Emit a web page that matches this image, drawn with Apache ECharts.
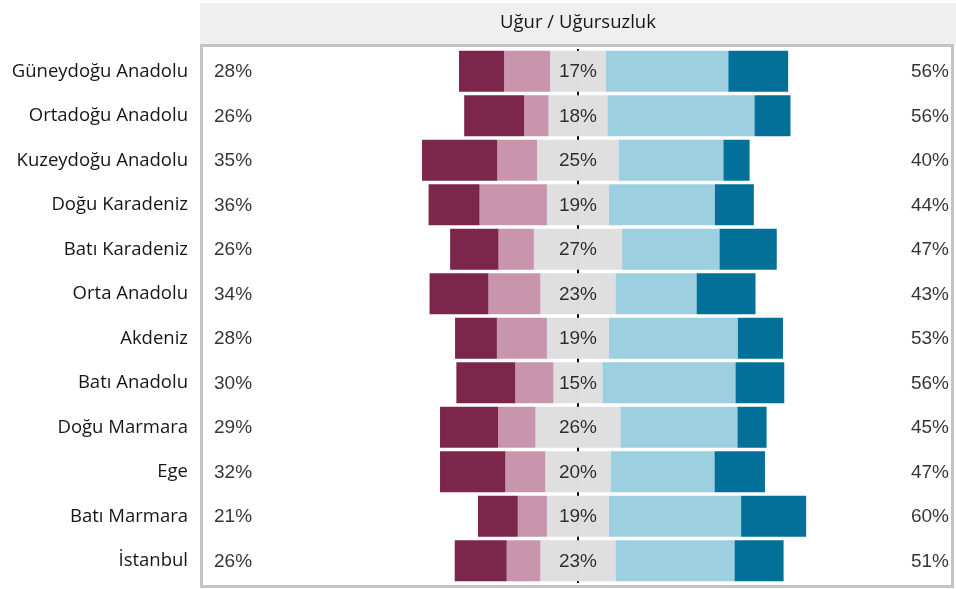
<!DOCTYPE html>
<html>
<head>
<meta charset="utf-8">
<style>
  html, body { margin: 0; padding: 0; background: #ffffff; }
  #chart { width: 956px; height: 589px; }
</style>
<script src="https://cdn.jsdelivr.net/npm/echarts@6/dist/echarts.min.js"></script>
</head>
<body>
<div id="chart"></div>
<script>
// Regions, top to bottom
const regions = [
  'Güneydoğu Anadolu', 'Ortadoğu Anadolu', 'Kuzeydoğu Anadolu', 'Doğu Karadeniz',
  'Batı Karadeniz', 'Orta Anadolu', 'Akdeniz', 'Batı Anadolu',
  'Doğu Marmara', 'Ege', 'Batı Marmara', 'İstanbul'
];

// Shares in percent for each answer level
const stronglyNegative = [13.8, 18.3, 23.0, 15.6, 14.8, 18.0, 12.8, 18.0, 17.8, 20.0, 12.2, 15.9];
const negative         = [14.1,  7.5, 12.2, 20.6, 10.8, 15.9, 15.3, 11.7, 11.4, 12.2,  8.9, 10.3];
const neutral          = [17,   18,   25,   19,   27,   23,   19,   15,   26,   20,   19,   23];
const positive         = [37.5, 45.0, 32.0, 32.4, 29.8, 24.8, 39.4, 40.7, 35.8, 31.8, 40.4, 36.4];
const stronglyPositive = [18.3, 11.0,  8.0, 11.9, 17.5, 18.0, 13.8, 14.9,  8.9, 15.4, 19.9, 15.0];

const title = 'Uğur / Uğursuzluk';

const colors = {
  strongNeg: '#7d264b',
  neg: '#c895ad',
  neutral: '#dfdfdf',
  pos: '#9ccfdf',
  strongPos: '#027099'
};

const X_MIN = -114.7;
const X_MAX = 113.8;

const leftTotals = regions.map((_, i) => Math.round(stronglyNegative[i] + negative[i]));
const rightTotals = regions.map((_, i) => Math.round(positive[i] + stronglyPositive[i]));

const numFont = '"Liberation Sans", Arial, sans-serif';
const textFont = '"Open Sans", sans-serif';
const textColor = '#161616';

function barSeries(name, values, color, sign) {
  return {
    name: name,
    type: 'bar',
    stack: 'total',
    barCategoryGap: '8%',
    itemStyle: { color: color },
    emphasis: { disabled: true },
    data: values.map(v => sign * v)
  };
}

function numberLabel(position, distance) {
  return {
    show: true,
    position: position,
    distance: distance,
    offset: [0, 1],
    formatter: p => p.value[2] + '%',
    color: '#000000',
    fontSize: 19,
    fontFamily: numFont
  };
}

const chart = echarts.init(document.getElementById('chart'), null, { renderer: 'canvas' });

chart.setOption({
  animation: false,
  backgroundColor: '#ffffff',
  grid: { left: 203, right: 6, top: 49, bottom: 6, containLabel: false },
  xAxis: {
    type: 'value',
    min: X_MIN,
    max: X_MAX,
    show: false
  },
  yAxis: {
    type: 'category',
    data: regions,
    inverse: true,
    axisLine: { show: false },
    axisTick: { show: false },
    splitLine: { show: false },
    axisLabel: {
      margin: 15,
      color: textColor,
      fontSize: 18.5,
      fontFamily: textFont
    }
  },
  graphic: [
    {
      type: 'rect',
      shape: { x: 200, y: 3, width: 756, height: 41 },
      style: { fill: '#efefef' },
      z: 0
    },
    {
      type: 'text',
      x: 578,
      y: 23,
      style: {
        text: title,
        fill: textColor,
        font: '18.5px ' + textFont,
        textAlign: 'center',
        textVerticalAlign: 'middle'
      },
      z: 1
    },
    {
      type: 'rect',
      shape: { x: 201.5, y: 45.5, width: 751, height: 541 },
      style: { fill: null, stroke: '#c4c4c4', lineWidth: 3 },
      z: 0
    }
  ],
  series: [
    barSeries('neutralLeft', neutral.map(v => v / 2), colors.neutral, -1),
    barSeries('neutralRight', neutral.map(v => v / 2), colors.neutral, 1),
    barSeries('negative', negative, colors.neg, -1),
    barSeries('stronglyNegative', stronglyNegative, colors.strongNeg, -1),
    barSeries('positive', positive, colors.pos, 1),
    barSeries('stronglyPositive', stronglyPositive, colors.strongPos, 1),
    {
      // center divider at zero, behind the bars
      type: 'scatter',
      symbolSize: 0,
      silent: true,
      data: [],
      markLine: {
        silent: true,
        z: 1,
        symbol: ['none', 'none'],
        label: { show: false },
        lineStyle: { color: '#000000', width: 2, type: 'solid' },
        data: [{ xAxis: 0 }]
      }
    },
    {
      name: 'neutralLabel',
      type: 'scatter',
      symbolSize: 0,
      silent: true,
      z: 5,
      data: neutral.map((v, i) => [0, i, v]),
      label: numberLabel('inside', 0)
    },
    {
      name: 'leftTotal',
      type: 'scatter',
      symbolSize: 0,
      silent: true,
      z: 5,
      data: leftTotals.map((v, i) => [X_MIN, i, v]),
      label: numberLabel('right', 11)
    },
    {
      name: 'rightTotal',
      type: 'scatter',
      symbolSize: 0,
      silent: true,
      z: 5,
      data: rightTotals.map((v, i) => [X_MAX, i, v]),
      label: numberLabel('left', 1)
    }
  ]
});
</script>
</body>
</html>
